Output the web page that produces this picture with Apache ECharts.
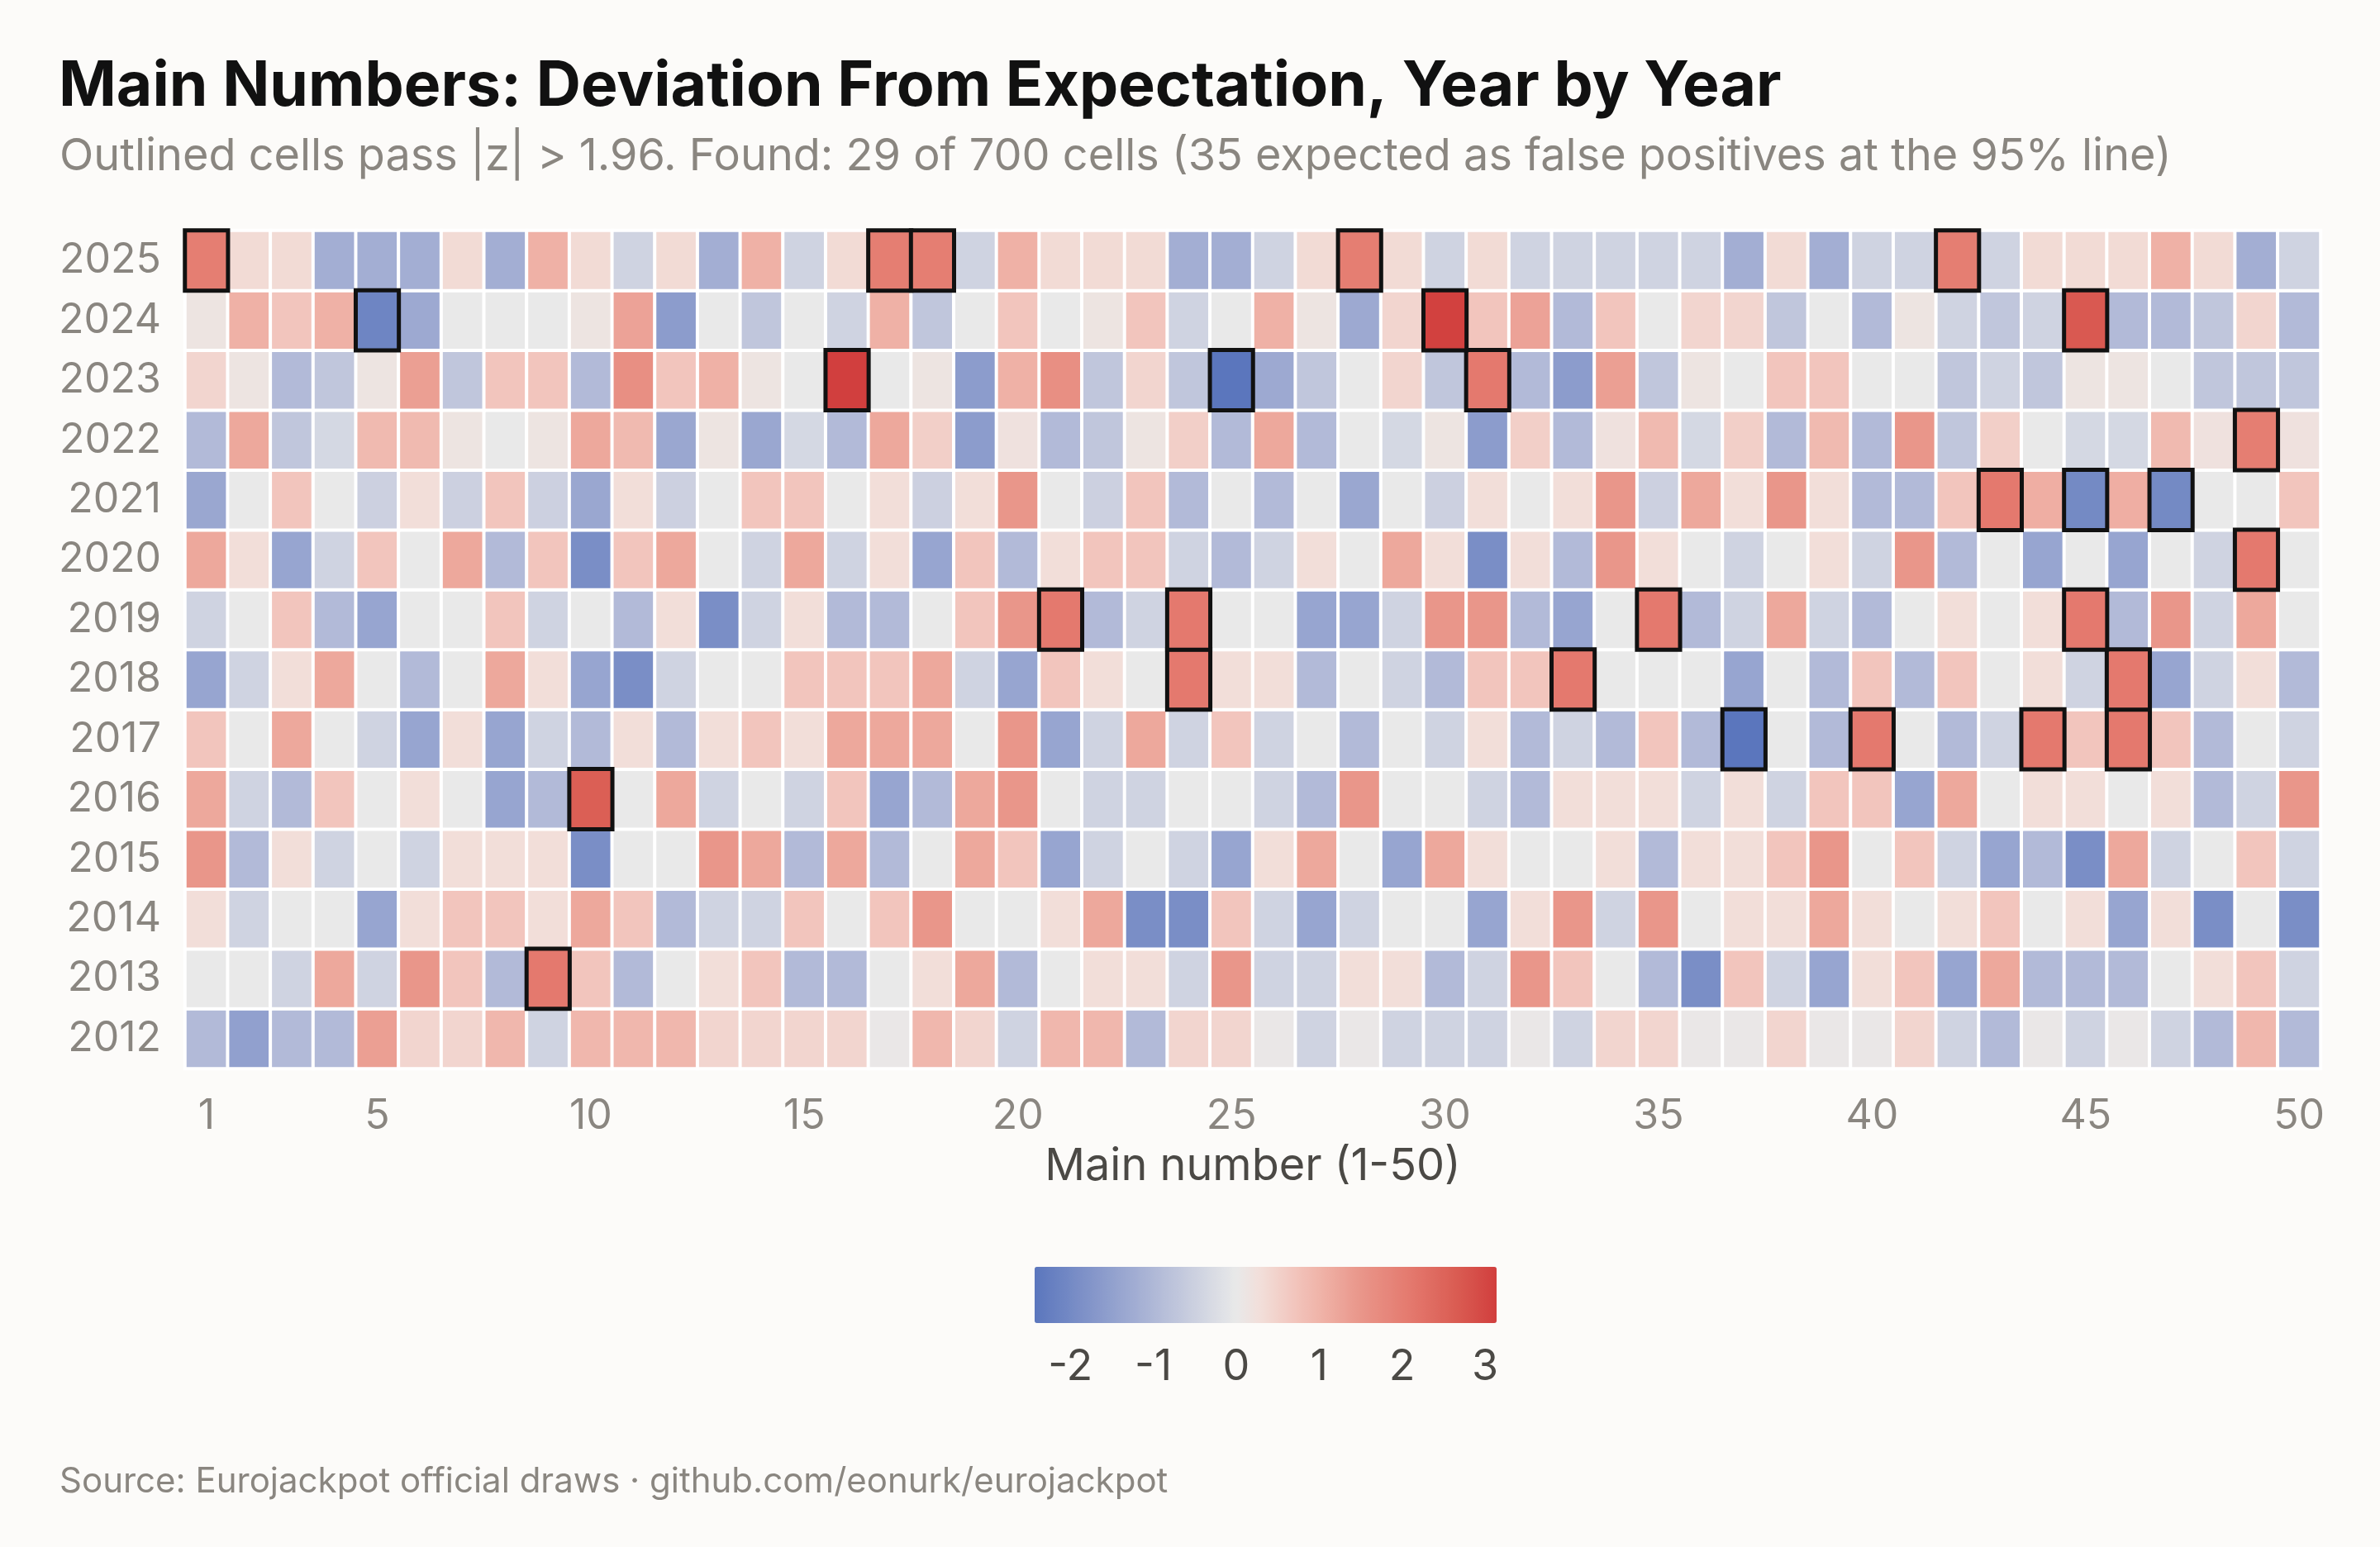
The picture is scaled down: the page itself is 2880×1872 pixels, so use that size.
<!DOCTYPE html>
<html>
<head>
<meta charset="utf-8">
<title>Main Numbers: Deviation From Expectation, Year by Year</title>
<script src="https://cdn.jsdelivr.net/npm/echarts@6/dist/echarts.min.js"></script>
<style>
  html, body { margin: 0; padding: 0; background: #fcfbf9; }
  #chart { width: 2880px; height: 1872px; }
</style>
</head>
<body>
<div id="chart"></div>
<script>
// Year rows, bottom to top on the y axis
const years = ['2012', '2013', '2014', '2015', '2016', '2017', '2018', '2019', '2020', '2021', '2022', '2023', '2024', '2025'];

// Main numbers 1-50 along the x axis
const numbers = ['1', '2', '3', '4', '5', '6', '7', '8', '9', '10',
    '11', '12', '13', '14', '15', '16', '17', '18', '19', '20',
    '21', '22', '23', '24', '25', '26', '27', '28', '29', '30',
    '31', '32', '33', '34', '35', '36', '37', '38', '39', '40',
    '41', '42', '43', '44', '45', '46', '47', '48', '49', '50'];

const xTickLabels = [1, 5, 10, 15, 20, 25, 30, 35, 40, 45, 50];
const colorbarTicks = [-2, -1, 0, 1, 2, 3];

// z-score per number, one array per year (numbers 1..50)
const z2012 = [-0.95, -1.5, -0.95, -0.95, 1.35, 0.45, 0.45, 0.95, -0.45, 0.95,
    0.95, 0.95, 0.45, 0.45, 0.45, 0.45, 0.05, 0.95, 0.45, -0.45,
    0.95, 0.95, -0.95, 0.45, 0.45, 0.05, -0.45, 0.05, -0.45, -0.45,
    -0.45, 0.05, -0.45, 0.45, 0.45, 0.05, 0.05, 0.45, 0.05, 0.05,
    0.45, -0.45, -0.95, 0.05, -0.45, 0.05, -0.45, -0.95, 0.95, -0.95];
const z2013 = [0, 0, -0.45, 1.2, -0.45, 1.5, 0.7, -0.95, 2.1, 0.7,
    -0.95, 0, 0.3, 0.7, -0.95, -0.95, 0, 0.3, 1.2, -0.95,
    0, 0.3, 0.3, -0.45, 1.5, -0.45, -0.45, 0.3, 0.3, -0.95,
    -0.45, 1.5, 0.7, 0, -0.95, -1.9, 0.7, -0.45, -1.4, 0.3,
    0.7, -1.4, 1.2, -0.95, -0.95, -0.95, 0, 0.3, 0.7, -0.45];
const z2014 = [0.3, -0.45, 0, 0, -1.4, 0.3, 0.7, 0.7, 0.3, 1.2,
    0.7, -0.95, -0.45, -0.45, 0.7, 0, 0.7, 1.5, 0, 0,
    0.3, 1.2, -1.9, -1.9, 0.7, -0.45, -1.4, -0.45, 0, 0,
    -1.4, 0.3, 1.5, -0.45, 1.5, 0, 0.3, 0.3, 1.2, 0.3,
    0, 0.3, 0.7, 0, 0.3, -1.4, 0.3, -1.9, 0, -1.9];
const z2015 = [1.5, -0.95, 0.3, -0.45, 0, -0.45, 0.3, 0.3, 0.3, -1.9,
    0, 0, 1.5, 1.2, -0.95, 1.2, -0.95, 0, 1.2, 0.7,
    -1.4, -0.45, 0, -0.45, -1.4, 0.3, 1.2, 0, -1.4, 1.2,
    0.3, 0, 0, 0.3, -0.95, 0.3, 0.3, 0.7, 1.5, 0,
    0.7, -0.45, -1.4, -0.95, -1.9, 1.2, -0.45, 0, 0.7, -0.45];
const z2016 = [1.2, -0.45, -0.95, 0.7, 0, 0.3, 0, -1.4, -0.95, 2.6,
    0, 1.2, -0.45, 0, -0.45, 0.7, -1.4, -0.95, 1.2, 1.5,
    0, -0.45, -0.45, 0, 0, -0.45, -0.95, 1.5, 0, 0,
    -0.45, -0.95, 0.3, 0.3, 0.3, -0.45, 0.3, -0.45, 0.7, 0.7,
    -1.4, 1.2, 0, 0.3, 0.3, 0, 0.3, -0.95, -0.45, 1.5];
const z2017 = [0.7, 0, 1.2, 0, -0.45, -1.4, 0.3, -1.4, -0.45, -0.95,
    0.3, -0.95, 0.3, 0.7, 0.3, 1.2, 1.2, 1.2, 0, 1.5,
    -1.4, -0.45, 1.2, -0.45, 0.7, -0.45, 0, -0.95, 0, -0.45,
    0.3, -0.95, -0.45, -0.95, 0.7, -0.95, -2.43, 0, -0.95, 2.1,
    0, -0.95, -0.45, 2.1, 0.7, 2.1, 0.7, -0.95, 0, -0.45];
const z2018 = [-1.4, -0.45, 0.3, 1.2, 0, -0.95, 0, 1.2, 0.3, -1.4,
    -1.9, -0.45, 0, 0, 0.7, 0.7, 0.7, 1.2, -0.45, -1.4,
    0.7, 0.3, 0, 2.1, 0.3, 0.3, -0.95, 0, -0.45, -0.95,
    0.7, 0.7, 2.1, 0, 0, 0, -1.4, 0, -0.95, 0.7,
    -0.95, 0.7, 0, 0.3, -0.45, 2.1, -1.4, -0.45, 0.3, -0.95];
const z2019 = [-0.45, 0, 0.7, -0.95, -1.4, 0, 0, 0.7, -0.45, 0,
    -0.95, 0.3, -1.9, -0.45, 0.3, -0.95, -0.95, 0, 0.7, 1.5,
    2.1, -0.95, -0.45, 2.1, 0, 0, -1.4, -1.4, -0.45, 1.5,
    1.5, -0.95, -1.4, 0, 2.1, -0.95, -0.45, 1.2, -0.45, -0.95,
    0, 0.3, 0, 0.3, 2.1, -0.95, 1.5, -0.45, 1.2, 0];
const z2020 = [1.2, 0.3, -1.4, -0.45, 0.7, 0, 1.2, -0.95, 0.7, -1.9,
    0.7, 1.2, 0, -0.45, 1.2, -0.45, 0.3, -1.4, 0.7, -0.95,
    0.3, 0.7, 0.7, -0.45, -0.95, -0.45, 0.3, 0, 1.2, 0.3,
    -1.9, 0.3, -0.95, 1.5, 0.3, 0, -0.45, 0, 0.3, -0.45,
    1.5, -0.95, 0, -1.4, 0, -1.4, 0, -0.45, 2.1, 0];
const z2021 = [-1.35, 0, 0.7, 0, -0.5, 0.3, -0.5, 0.7, -0.5, -1.35,
    0.3, -0.5, 0, 0.7, 0.7, 0, 0.3, -0.5, 0.3, 1.5,
    0, -0.5, 0.7, -0.95, 0, -0.95, 0, -1.35, 0, -0.5,
    0.3, 0, 0.3, 1.5, -0.5, 1.2, 0.3, 1.5, 0.3, -0.95,
    -0.95, 0.7, 2.1, 1.1, -2.0, 1.1, -2.0, 0, 0, 0.7];
const z2022 = [-0.95, 1.2, -0.7, -0.35, 0.9, 0.9, 0.15, 0, 0.15, 1.2,
    0.9, -1.35, 0.15, -1.35, -0.35, -0.95, 1.2, 0.55, -1.6, 0.2,
    -0.95, -0.7, 0.15, 0.55, -0.95, 1.2, -0.95, 0, -0.35, 0.15,
    -1.6, 0.55, -0.95, 0.2, 0.9, -0.35, 0.55, -0.95, 0.9, -0.95,
    1.5, -0.7, 0.55, 0, -0.35, -0.35, 0.9, 0.2, 2.0, 0.2];
const z2023 = [0.45, 0.15, -0.95, -0.7, 0.15, 1.35, -0.7, 0.7, 0.7, -0.95,
    1.65, 0.7, 1.05, 0.15, 0, 3.14, 0, 0.15, -1.6, 1.05,
    1.65, -0.7, 0.45, -0.7, -2.43, -1.3, -0.7, 0, 0.45, -0.7,
    2.1, -0.95, -1.6, 1.35, -0.7, 0.15, 0, 0.7, 0.7, 0,
    0, -0.7, -0.45, -0.7, 0.15, 0.15, 0, -0.7, -0.7, -0.7];
const z2024 = [0.15, 1.05, 0.7, 1.05, -2.1, -1.3, 0, 0, 0, 0.15,
    1.3, -1.6, 0, -0.7, 0, -0.45, 1.05, -0.7, 0, 0.7,
    0, 0.15, 0.7, -0.45, 0, 1.05, 0.15, -1.3, 0.45, 3.1,
    0.7, 1.3, -0.95, 0.7, 0, 0.45, 0.45, -0.7, 0, -0.95,
    0.15, -0.45, -0.7, -0.45, 2.7, -0.95, -0.95, -0.7, 0.45, -0.95];
const z2025 = [2.0, 0.35, 0.35, -1.2, -1.2, -1.2, 0.35, -1.2, 1.05, 0.35,
    -0.45, 0.35, -1.2, 1.05, -0.45, 0.35, 2.0, 2.0, -0.45, 1.05,
    0.35, 0.35, 0.35, -1.2, -1.2, -0.45, 0.35, 2.0, 0.35, -0.45,
    0.35, -0.45, -0.45, -0.45, -0.45, -0.45, -1.2, 0.35, -1.2, -0.45,
    -0.45, 2.0, -0.45, 0.35, 0.35, 0.35, 1.05, 0.35, -1.2, -0.45];

const rows = [z2012, z2013, z2014, z2015, z2016, z2017, z2018, z2019, z2020, z2021, z2022, z2023, z2024, z2025];

const zMin = -2.43;
const zMax = 3.14;
const zThreshold = 1.96;

// Diverging palette anchors (value -> colour), centred on zero
const paletteValues = [-2.43, -1.2, 0, 0.3, 0.7, 1.05, 1.5, 2.1, 2.6, 3.14];
const paletteColors = ['#5b76bd', '#a3aed3', '#e9e9e9', '#f2ded9', '#f2c5bd', '#efb1a6', '#e9968a', '#e4796e', '#db5f55', '#d13f3e'];

function hexToRgb(hex) {
    const n = parseInt(hex.slice(1), 16);
    return [(n >> 16) & 255, (n >> 8) & 255, n & 255];
}

// ECharts spreads inRange colours evenly, so sample the two-slope ramp finely
function buildRamp(steps) {
    const out = [];
    for (let i = 0; i <= steps; i++) {
        const v = zMin + (zMax - zMin) * i / steps;
        let k = 0;
        while (k < paletteValues.length - 2 && v > paletteValues[k + 1]) k++;
        const t = Math.max(0, Math.min(1, (v - paletteValues[k]) / (paletteValues[k + 1] - paletteValues[k])));
        const a = hexToRgb(paletteColors[k]);
        const b = hexToRgb(paletteColors[k + 1]);
        const c = a.map((ch, j) => Math.round(ch + (b[j] - ch) * t));
        out.push(`rgb(${c[0]},${c[1]},${c[2]})`);
    }
    return out;
}

const cells = [];
rows.forEach((row, yi) => {
    row.forEach((v, xi) => cells.push([xi, yi, v]));
});
const significant = cells.filter(c => Math.abs(c[2]) > zThreshold);

const labelGrey = '#8a8680';
const darkGrey = '#4b4945';

const chart = echarts.init(document.getElementById('chart'));

const option = {
    backgroundColor: '#fcfbf9',
    animation: false,
    textStyle: { fontFamily: 'Inter' },
    title: [
        {
            text: 'Main Numbers: Deviation From Expectation, Year by Year',
            left: 71,
            top: 68,
            padding: 0,
            textStyle: { fontFamily: 'Inter', fontSize: 75, fontWeight: 'bold', color: '#111111' }
        },
        {
            text: 'Outlined cells pass |z| > 1.96. Found: 29 of 700 cells (35 expected as false positives at the 95% line)',
            left: 72,
            top: 163,
            padding: 0,
            textStyle: { fontFamily: 'Inter', fontSize: 54, fontWeight: 'normal', color: labelGrey }
        },
        {
            text: 'Source: Eurojackpot official draws · github.com/eonurk/eurojackpot',
            left: 72,
            top: 1772,
            padding: 0,
            textStyle: { fontFamily: 'Inter', fontSize: 42, fontWeight: 'normal', color: labelGrey }
        }
    ],
    grid: [
        { left: 224, top: 279, width: 2584, height: 1014 },
        { left: 1252, top: 1533, width: 559, height: 68 }
    ],
    xAxis: [
        {
            type: 'category',
            gridIndex: 0,
            data: numbers,
            name: 'Main number (1-50)',
            nameLocation: 'middle',
            nameGap: 92,
            nameTextStyle: { fontSize: 54, color: darkGrey },
            axisLine: { show: false },
            axisTick: { show: false },
            splitLine: { show: false },
            axisLabel: {
                fontSize: 50,
                color: labelGrey,
                margin: 33,
                interval: (idx, val) => xTickLabels.includes(Number(val))
            }
        },
        {
            type: 'value',
            gridIndex: 1,
            position: 'bottom',
            min: zMin,
            max: zMax,
            axisLine: { show: false },
            splitLine: { show: false },
            axisTick: {
                inside: true,
                length: 12,
                customValues: colorbarTicks,
                lineStyle: { color: '#ffffff', width: 2 }
            },
            axisLabel: {
                customValues: colorbarTicks,
                fontSize: 52,
                color: darkGrey,
                margin: 27
            }
        },
        {
            type: 'value',
            gridIndex: 1,
            position: 'top',
            min: zMin,
            max: zMax,
            axisLine: { show: false },
            splitLine: { show: false },
            axisLabel: { show: false },
            axisTick: {
                inside: true,
                length: 12,
                customValues: colorbarTicks,
                lineStyle: { color: '#ffffff', width: 2 }
            }
        }
    ],
    yAxis: [
        {
            type: 'category',
            gridIndex: 0,
            data: years,
            axisLine: { show: false },
            axisTick: { show: false },
            splitLine: { show: false },
            axisLabel: { fontSize: 50, color: labelGrey, margin: 29, padding: [14, 0, 0, 0] }
        },
        {
            type: 'value',
            gridIndex: 1,
            show: false,
            min: 0,
            max: 1
        }
    ],
    visualMap: {
        type: 'continuous',
        seriesIndex: [0, 1],
        min: zMin,
        max: zMax,
        orient: 'horizontal',
        left: 1252,
        top: 1533,
        itemWidth: 68,
        itemHeight: 559,
        padding: 0,
        calculable: false,
        hoverLink: false,
        text: null,
        inRange: { color: buildRamp(160) }
    },
    series: [
        {
            name: 'z-score',
            type: 'heatmap',
            xAxisIndex: 0,
            yAxisIndex: 0,
            data: cells,
            itemStyle: { borderColor: '#ffffff', borderWidth: 4 },
            emphasis: { disabled: true }
        },
        {
            name: 'significant',
            type: 'heatmap',
            xAxisIndex: 0,
            yAxisIndex: 0,
            data: significant,
            itemStyle: { borderColor: '#111111', borderWidth: 5 },
            emphasis: { disabled: true },
            z: 3
        }
    ]
};

chart.setOption(option);
window.addEventListener('resize', () => chart.resize());
</script>
</body>
</html>
